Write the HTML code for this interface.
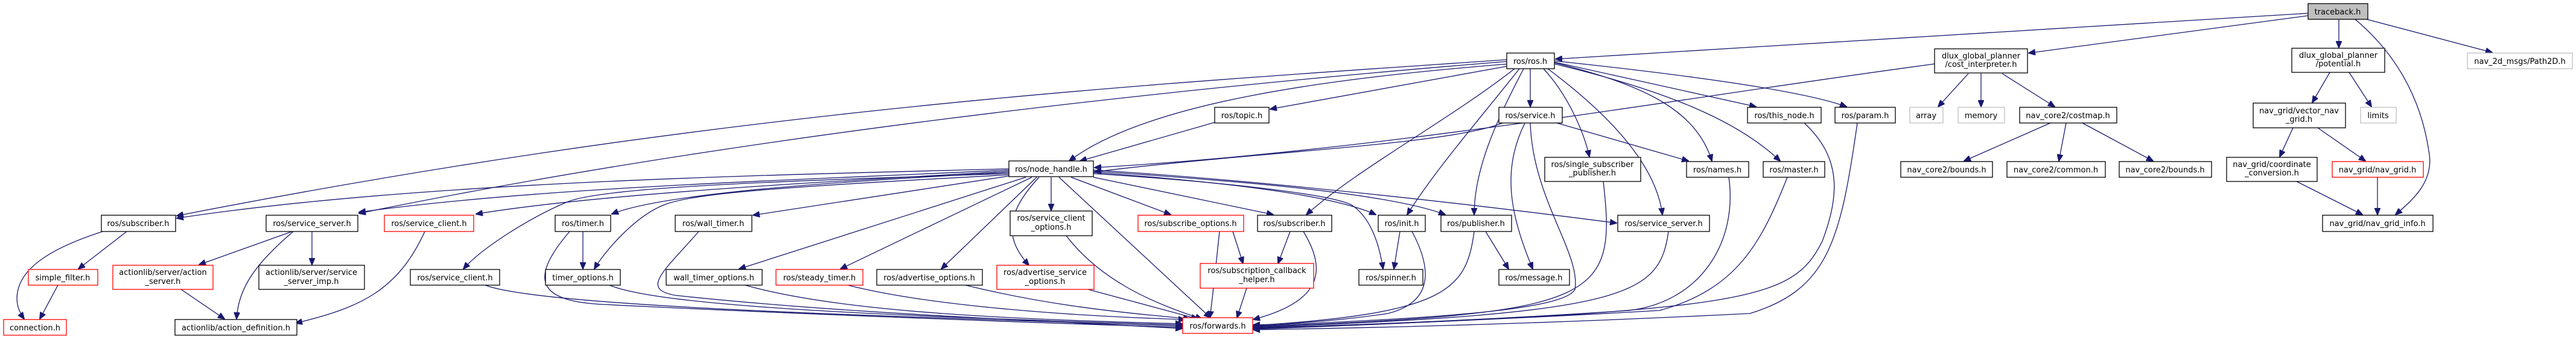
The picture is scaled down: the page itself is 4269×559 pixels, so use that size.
<!DOCTYPE html>
<html><head><meta charset="utf-8"><style>
html,body{margin:0;padding:0;background:#fff;}
svg{display:block;}
text{font-family:"DejaVu Sans","Liberation Sans",sans-serif;font-size:13px;fill:#000;text-anchor:middle;}
.e{fill:none;stroke:#191970;stroke-width:1.3;marker-end:url(#a);}
.b{fill:#fff;stroke:#000;stroke-width:1.3;}
.r{fill:#fff;stroke:#ff0000;stroke-width:1.3;}
.g{fill:#fff;stroke:#bfbfbf;stroke-width:1.3;}
.t{fill:#bfbfbf;stroke:#000;stroke-width:1.3;}
</style></head><body>
<svg width="4269" height="559" viewBox="0 0 4269 559" xmlns="http://www.w3.org/2000/svg">
<defs><marker id="a" markerUnits="userSpaceOnUse" markerWidth="12" markerHeight="10" refX="11" refY="5" orient="auto"><path d="M0,0 L12,5 L0,10 z" fill="#191970" stroke="#191970"/></marker></defs>

<g>
<path class="e" d="M3825,22 L2578,98"/>
<path class="e" d="M3825,26 L3362,88"/>
<path class="e" d="M3876,32 L3876,79"/>
<path class="e" d="M3903,32 C3960,80 4010,150 4025,250 C4035,300 4000,330 3970,356"/>
<path class="e" d="M3922,32 L4130,87"/>
<path class="e" d="M3206,106 C2800,160 2300,250 1814,278"/>
<path class="e" d="M3262,122 L3212,177"/>
<path class="e" d="M3283,122 L3283,177"/>
<path class="e" d="M3318,122 L3405,177"/>
<path class="e" d="M3398,204 L3255,267"/>
<path class="e" d="M3424,204 L3412,267"/>
<path class="e" d="M3451,204 L3568,267"/>
<path class="e" d="M3861,120 L3832,170"/>
<path class="e" d="M3893,120 L3930,177"/>
<path class="e" d="M3800,212 L3778,260"/>
<path class="e" d="M3841,212 L3920,267"/>
<path class="e" d="M3806,301 L3915,356"/>
<path class="e" d="M3940,294 L3940,356"/>

<path class="e" d="M2497,99 C1900,140 1200,180 293,358"/>
<path class="e" d="M2497,102 C1900,150 1200,230 595,354"/>
<path class="e" d="M2500,106 C2200,130 1900,170 1772,267"/>
<path class="e" d="M2497,110 L2105,181"/>
<path class="e" d="M2536,114 L2536,177"/>
<path class="e" d="M2510,114 C2400,200 2250,280 2165,356"/>
<path class="e" d="M2518,114 C2450,200 2380,280 2332,356"/>
<path class="e" d="M2525,114 C2480,200 2443,280 2443,356"/>
<path class="e" d="M2558,114 C2600,160 2625,220 2634,260"/>
<path class="e" d="M2565,114 C2680,200 2745,280 2755,356"/>
<path class="e" d="M2576,104 C2720,140 2810,180 2837,267"/>
<path class="e" d="M2576,106 C2760,150 2880,200 2950,267"/>
<path class="e" d="M2576,103 L2910,177"/>
<path class="e" d="M2576,101 C2850,130 3000,155 3060,177"/>

<path class="e" d="M2013,203 L1790,267"/>
<path class="e" d="M2490,204 C2400,240 2100,250 1814,285"/>
<path class="e" d="M2580,204 L2798,267"/>
<path class="e" d="M2527,204 C2490,280 2500,350 2540,446"/>
<path class="e" d="M2536,204 C2540,330 2620,420 2610,480 C2590,520 2300,530 2077,541"/>

<path class="e" d="M1672,280 C1300,290 700,300 293,362"/>
<path class="e" d="M1672,282 C1300,300 900,310 595,352"/>
<path class="e" d="M1672,284 C1400,300 1000,320 789,355"/>
<path class="e" d="M1672,286 C1400,300 1100,320 1014,355"/>
<path class="e" d="M1672,288 C1300,300 1000,310 940,335 C880,360 800,410 768,446"/>
<path class="e" d="M1672,290 C1300,310 1150,320 1100,340 C1050,360 1000,420 985,446"/>
<path class="e" d="M1672,292 L1248,357"/>
<path class="e" d="M1700,294 L1225,446"/>
<path class="e" d="M1710,294 L1393,446"/>
<path class="e" d="M1718,294 L1560,446"/>
<path class="e" d="M1722,294 C1660,360 1670,400 1705,440"/>
<path class="e" d="M1742,294 L1742,349"/>
<path class="e" d="M1755,294 L2006,527"/>
<path class="e" d="M1775,294 L1940,356"/>
<path class="e" d="M1812,294 L2110,356"/>
<path class="e" d="M1812,286 C2000,300 2200,320 2280,356"/>
<path class="e" d="M1812,288 C2000,300 2200,320 2240,340 C2270,360 2285,400 2292,446"/>
<path class="e" d="M1812,284 C2050,300 2300,320 2395,356"/>
<path class="e" d="M1812,282 C2100,300 2450,340 2679,370"/>

<path class="e" d="M170,384 C90,410 40,440 30,480 C25,500 30,515 40,529"/>
<path class="e" d="M210,384 L130,446"/>
<path class="e" d="M96,473 L66,529"/>
<path class="e" d="M484,384 L330,439"/>
<path class="e" d="M486,384 C420,440 395,480 392,529"/>
<path class="e" d="M517,384 L517,439"/>
<path class="e" d="M300,480 L372,529"/>
<path class="e" d="M704,384 C660,480 600,510 490,536"/>
<path class="e" d="M966,384 L966,446"/>
<path class="e" d="M944,384 C870,470 900,500 1000,505 C1300,520 1700,535 1959,543"/>
<path class="e" d="M804,473 C900,510 1500,525 1959,541"/>
<path class="e" d="M1010,473 C1100,510 1500,525 1959,539"/>
<path class="e" d="M1158,384 C1100,450 1060,480 1120,490 C1400,520 1700,530 1959,545"/>
<path class="e" d="M1235,473 C1400,520 1700,530 1959,537"/>
<path class="e" d="M1405,473 C1550,510 1800,525 1964,530"/>
<path class="e" d="M1600,473 C1750,510 1880,520 1972,529"/>
<path class="e" d="M1803,480 L1985,529"/>
<path class="e" d="M1767,391 C1820,460 1900,500 1992,529"/>
<path class="e" d="M2043,384 L2060,437"/>
<path class="e" d="M2021,384 C2015,440 2010,490 2005,527"/>
<path class="e" d="M2138,384 L2118,437"/>
<path class="e" d="M2160,384 C2200,450 2190,500 2077,530"/>
<path class="e" d="M2066,478 L2050,527"/>
<path class="e" d="M2320,384 L2310,446"/>
<path class="e" d="M2340,384 C2370,440 2380,500 2300,520 C2200,535 2120,538 2077,539"/>
<path class="e" d="M2462,384 L2500,446"/>
<path class="e" d="M2443,384 C2430,480 2400,520 2077,540"/>
<path class="e" d="M2657,301 C2680,500 2650,520 2077,542"/>
<path class="e" d="M2765,384 C2750,490 2700,520 2077,543"/>
<path class="e" d="M2865,294 C2880,400 2820,500 2700,515 C2400,535 2200,540 2077,544"/>
<path class="e" d="M2962,294 C2920,400 2880,480 2750,515 C2400,535 2200,540 2077,545"/>
<path class="e" d="M2990,204 C3050,260 3050,320 3020,400 C2970,500 2900,515 2077,546"/>
<path class="e" d="M3078,204 C3050,400 3030,480 2900,520 C2500,540 2200,545 2077,547"/>
</g>

<g>
<rect class="t" x="3825" y="6" width="99" height="26"/><text x="3874" y="24">traceback.h</text>
<rect class="b" x="3206" y="81" width="154" height="40"/><text x="3283" y="97">dlux_global_planner</text><text x="3283" y="111">/cost_interpreter.h</text>
<rect class="b" x="3798" y="80" width="154" height="40"/><text x="3875" y="96">dlux_global_planner</text><text x="3875" y="110">/potential.h</text>
<rect class="g" x="4089" y="88" width="174" height="26"/><text x="4176" y="106">nav_2d_msgs/Path2D.h</text>
<rect class="b" x="2497" y="88" width="79" height="26"/><text x="2536" y="106">ros/ros.h</text>
<rect class="b" x="2013" y="178" width="90" height="26"/><text x="2058" y="196">ros/topic.h</text>
<rect class="b" x="2484" y="178" width="105" height="26"/><text x="2536" y="196">ros/service.h</text>
<rect class="b" x="2896" y="178" width="122" height="26"/><text x="2957" y="196">ros/this_node.h</text>
<rect class="b" x="3041" y="178" width="100" height="26"/><text x="3091" y="196">ros/param.h</text>
<rect class="g" x="3165" y="178" width="55" height="26"/><text x="3192" y="196">array</text>
<rect class="g" x="3245" y="178" width="77" height="26"/><text x="3283" y="196">memory</text>
<rect class="b" x="3347" y="178" width="161" height="26"/><text x="3427" y="196">nav_core2/costmap.h</text>
<rect class="b" x="3734" y="171" width="153" height="41"/><text x="3810" y="188">nav_grid/vector_nav</text><text x="3810" y="202">_grid.h</text>
<rect class="g" x="3912" y="178" width="59" height="26"/><text x="3941" y="196">limits</text>
<rect class="b" x="1672" y="267" width="140" height="26"/><text x="1742" y="285">ros/node_handle.h</text>
<rect class="b" x="2560" y="261" width="159" height="40"/><text x="2639" y="277">ros/single_subscriber</text><text x="2639" y="291">_publisher.h</text>
<rect class="b" x="2795" y="268" width="103" height="26"/><text x="2846" y="286">ros/names.h</text>
<rect class="b" x="2922" y="268" width="102" height="26"/><text x="2973" y="286">ros/master.h</text>
<rect class="b" x="3150" y="268" width="152" height="26"/><text x="3226" y="286">nav_core2/bounds.h</text>
<rect class="b" x="3326" y="268" width="163" height="26"/><text x="3407" y="286">nav_core2/common.h</text>
<rect class="b" x="3512" y="268" width="153" height="26"/><text x="3588" y="286">nav_core2/bounds.h</text>
<rect class="b" x="3690" y="261" width="150" height="40"/><text x="3765" y="277">nav_grid/coordinate</text><text x="3765" y="291">_conversion.h</text>
<rect class="r" x="3865" y="268" width="151" height="26"/><text x="3940" y="286">nav_grid/nav_grid.h</text>

<rect class="b" x="168" y="357" width="123" height="27"/><text x="229" y="375">ros/subscriber.h</text>
<rect class="b" x="441" y="357" width="152" height="27"/><text x="517" y="375">ros/service_server.h</text>
<rect class="r" x="637" y="357" width="148" height="27"/><text x="711" y="375">ros/service_client.h</text>
<rect class="b" x="920" y="357" width="92" height="27"/><text x="966" y="375">ros/timer.h</text>
<rect class="b" x="1119" y="357" width="127" height="27"/><text x="1182" y="375">ros/wall_timer.h</text>
<rect class="b" x="1674" y="350" width="136" height="41"/><text x="1742" y="366">ros/service_client</text><text x="1742" y="381">_options.h</text>
<rect class="r" x="1886" y="357" width="175" height="27"/><text x="1973" y="375">ros/subscribe_options.h</text>
<rect class="b" x="2084" y="357" width="123" height="27"/><text x="2145" y="375">ros/subscriber.h</text>
<rect class="b" x="2284" y="357" width="78" height="27"/><text x="2323" y="375">ros/init.h</text>
<rect class="b" x="2388" y="357" width="117" height="27"/><text x="2446" y="375">ros/publisher.h</text>
<rect class="b" x="2681" y="357" width="152" height="27"/><text x="2757" y="375">ros/service_server.h</text>
<rect class="b" x="3849" y="357" width="183" height="27"/><text x="3940" y="375">nav_grid/nav_grid_info.h</text>

<rect class="r" x="47" y="447" width="115" height="26"/><text x="104" y="465">simple_filter.h</text>
<rect class="r" x="187" y="440" width="166" height="40"/><text x="270" y="456">actionlib/server/action</text><text x="270" y="471">_server.h</text>
<rect class="b" x="429" y="440" width="175" height="40"/><text x="516" y="456">actionlib/server/service</text><text x="516" y="471">_server_imp.h</text>
<rect class="b" x="680" y="447" width="148" height="26"/><text x="754" y="465">ros/service_client.h</text>
<rect class="b" x="904" y="447" width="124" height="26"/><text x="966" y="465">timer_options.h</text>
<rect class="b" x="1104" y="447" width="159" height="26"/><text x="1183" y="465">wall_timer_options.h</text>
<rect class="r" x="1286" y="447" width="144" height="26"/><text x="1358" y="465">ros/steady_timer.h</text>
<rect class="b" x="1453" y="447" width="175" height="26"/><text x="1540" y="465">ros/advertise_options.h</text>
<rect class="r" x="1652" y="440" width="161" height="40"/><text x="1732" y="456">ros/advertise_service</text><text x="1732" y="471">_options.h</text>
<rect class="r" x="1989" y="437" width="188" height="41"/><text x="2083" y="453">ros/subscription_callback</text><text x="2083" y="468">_helper.h</text>
<rect class="b" x="2252" y="447" width="106" height="26"/><text x="2305" y="465">ros/spinner.h</text>
<rect class="b" x="2484" y="447" width="117" height="26"/><text x="2542" y="465">ros/message.h</text>

<rect class="r" x="6" y="530" width="104" height="26"/><text x="58" y="548">connection.h</text>
<rect class="b" x="290" y="530" width="202" height="26"/><text x="391" y="548">actionlib/action_definition.h</text>
<rect class="r" x="1960" y="527" width="116" height="26"/><text x="2018" y="545">ros/forwards.h</text>
</g>
</svg>
</body></html>
